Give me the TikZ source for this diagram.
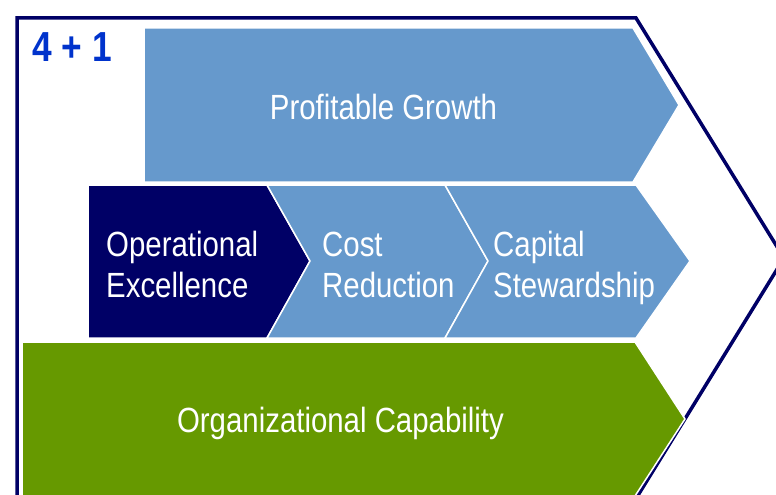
\documentclass[tikz,border=0pt]{standalone}
\usepackage{fontspec}
\newfontfamily\narrowsf{Liberation Sans}[FakeStretch=0.84]
\definecolor{framenavy}{RGB}{0,0,102}
\definecolor{steelblue}{RGB}{102,153,204}
\definecolor{leafgreen}{RGB}{102,153,0}
\definecolor{numblue}{RGB}{0,51,204}
\tikzset{
  block/.style={draw=white, line width=1.5pt, line join=miter},
  boxtext/.style={text=white, inner sep=0pt, font=\narrowsf\fontsize{35}{41}\selectfont}
}
\begin{document}
\begin{tikzpicture}[x=1pt,y=-1pt]
\useasboundingbox (0,0) rectangle (776,495);
\clip (0,0) rectangle (776,495);
% 外枠
\draw[framenavy, line width=3.5pt, line join=miter] (17,520) -- (17,18) -- (636,18) -- (784,258) -- (624,518);
% 上段
\path[block, fill=steelblue] (144,28) -- (633,28) -- (679,105) -- (633,182) -- (144,182) -- cycle;
% 中段
\path[block, fill=framenavy] (88,185) -- (267,185) -- (310,261) -- (267,338) -- (88,338) -- cycle;
\path[block, fill=steelblue] (267,185) -- (445,185) -- (488,261) -- (445,338) -- (267,338) -- (310,261) -- cycle;
\path[block, fill=steelblue] (445,185) -- (636,185) -- (690,261) -- (636,338) -- (445,338) -- (488,261) -- cycle;
% 下段
\path[block, fill=leafgreen] (22,342) -- (635,342) -- (685,419) -- (635,496) -- (22,496) -- cycle;
% ラベル
\node[font=\narrowsf\bfseries\fontsize{42}{42}\selectfont, text=numblue, inner sep=0pt, anchor=base west] (plusone) at (32,62) {4 + 1};
\node[boxtext, anchor=base] (growth) at (383.5,119) {Profitable Growth};
\node[boxtext, anchor=base west, align=left] (opex) at (106,297) {Operational\\Excellence};
\node[boxtext, anchor=base west, align=left] (cost) at (322,297) {Cost\\Reduction};
\node[boxtext, anchor=base west, align=left] (capital) at (493,297) {Capital\\Stewardship};
\node[boxtext, anchor=base] (orgcap) at (340.5,432) {Organizational Capability};
\end{tikzpicture}
\end{document}
